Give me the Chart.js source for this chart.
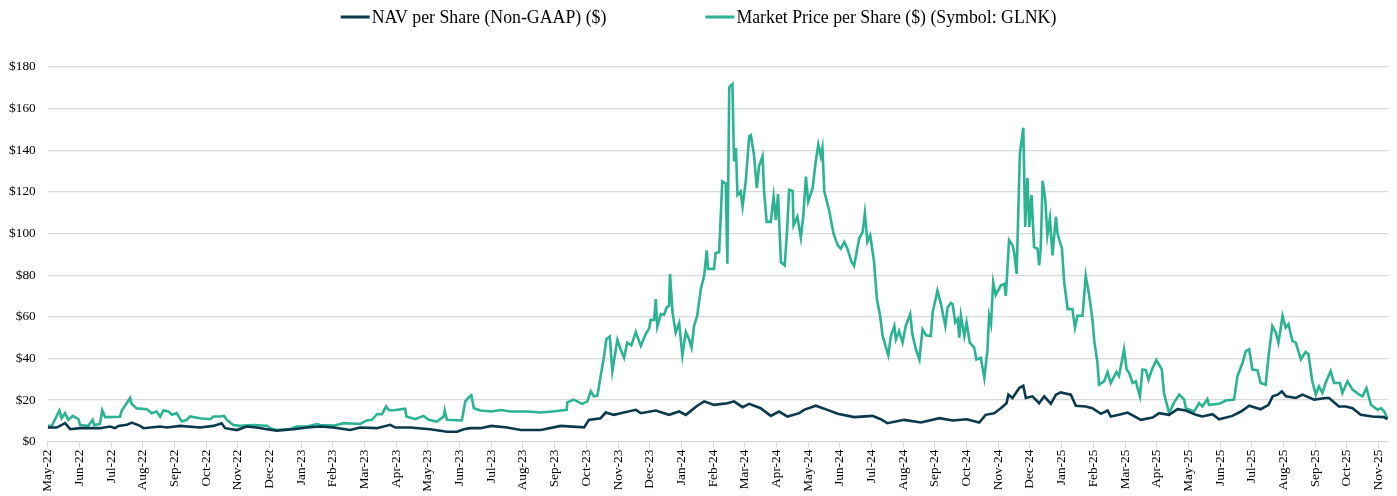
<!DOCTYPE html>
<html>
<head>
<meta charset="utf-8">
<script src="https://cdn.jsdelivr.net/npm/chart.js@4.4.1/dist/chart.umd.min.js"></script>
<style>
  html, body { margin: 0; padding: 0; background: #ffffff; }
  #wrap { width: 1397px; height: 496px; }
</style>
</head>
<body>
<div id="wrap"><canvas id="c" width="1397" height="496"></canvas></div>
<script>
// Month tick labels (x value = months since May-22)
const monthLabels = ['May-22','Jun-22','Jul-22','Aug-22','Sep-22','Oct-22','Nov-22','Dec-22',
  'Jan-23','Feb-23','Mar-23','Apr-23','May-23','Jun-23','Jul-23','Aug-23','Sep-23','Oct-23','Nov-23','Dec-23',
  'Jan-24','Feb-24','Mar-24','Apr-24','May-24','Jun-24','Jul-24','Aug-24','Sep-24','Oct-24','Nov-24','Dec-24',
  'Jan-25','Feb-25','Mar-25','Apr-25','May-25','Jun-25','Jul-25','Aug-25','Sep-25','Oct-25','Nov-25'];

const yTickValues = [0, 20, 40, 60, 80, 100, 120, 140, 160, 180];

const seriesNames = ['NAV per Share (Non-GAAP) ($)', 'Market Price per Share ($) (Symbol: GLNK)'];

// Market price: time (months since May-22) and value ($)
const priceMonth = [0,0.13,0.37,0.44,0.55,0.65,0.79,0.97,1.02,1.28,1.42,1.47,1.65,1.72,1.81,2.28,2.34,2.6,2.65,2.81,
  3.13,3.28,3.44,3.55,3.65,3.81,3.92,4.07,4.23,4.39,4.49,4.81,5.13,5.23,5.44,5.57,5.65,5.86,6.07,6.5,
  6.92,7.02,7.23,7.65,7.86,8.18,8.5,8.6,9.02,9.34,9.86,10.07,10.23,10.39,10.55,10.68,10.76,10.86,11.28,11.32,
  11.6,11.86,12.02,12.28,12.5,12.53,12.6,13.07,13.18,13.3,13.37,13.45,13.66,14,14.3,14.6,15.14,15.56,16.0,16.38,
  16.4,16.6,16.87,17.03,17.14,17.24,17.35,17.45,17.56,17.63,17.74,17.82,17.98,18.08,18.19,18.29,18.42,18.56,18.72,18.87,
  18.98,19.03,19.14,19.19,19.24,19.35,19.45,19.54,19.61,19.64,19.72,19.82,19.93,20.03,20.14,20.24,20.32,20.4,20.5,20.61,
  20.72,20.8,20.84,21.03,21.08,21.19,21.29,21.4,21.45,21.51,21.61,21.66,21.72,21.77,21.87,21.93,22.03,22.14,22.19,22.29,
  22.38,22.45,22.56,22.61,22.69,22.82,22.91,22.98,23.05,23.14,23.26,23.33,23.4,23.51,23.54,23.66,23.77,23.85,23.93,24,
  24.14,24.24,24.32,24.4,24.45,24.51,24.66,24.8,24.93,25.03,25.14,25.24,25.37,25.45,25.61,25.72,25.79,25.87,25.96,26.08,
  26.17,26.27,26.35,26.53,26.61,26.72,26.77,26.87,26.98,27.08,27.22,27.29,27.4,27.51,27.61,27.72,27.87,27.93,28.08,28.19,
  28.33,28.4,28.5,28.56,28.64,28.72,28.77,28.82,28.93,29,29.1,29.24,29.31,29.45,29.56,29.66,29.71,29.77,29.84,29.92,
  30.08,30.19,30.24,30.34,30.45,30.5,30.58,30.68,30.79,30.85,30.92,30.98,31.05,31.13,31.24,31.29,31.34,31.4,31.48,31.55,
  31.63,31.71,31.82,31.87,32.01,32.08,32.19,32.34,32.42,32.5,32.66,32.76,32.87,32.97,33.03,33.13,33.18,33.34,33.45,33.55,
  33.73,33.81,33.97,34.05,34.13,34.24,34.34,34.47,34.55,34.66,34.74,34.85,34.99,35.16,35.23,35.39,35.55,35.71,35.87,35.92,
  36.18,36.34,36.44,36.6,36.65,36.97,37.18,37.44,37.55,37.71,37.81,37.92,38.02,38.18,38.28,38.44,38.53,38.65,38.76,38.84,
  38.91,38.97,39.07,39.16,39.28,39.39,39.55,39.7,39.79,39.91,40.02,40.12,40.23,40.33,40.49,40.6,40.78,40.86,41.02,41.18,
  41.39,41.5,41.62,41.76,41.97,42.08,42.18,42.28];
const priceValue = [7.6,7.6,15,11.3,13.7,10.5,12.4,10.8,8,7.6,10.5,8,8.5,15,11.8,12,15,21,18.2,16,
  15.6,13.7,14.5,12,15,14.5,12.9,13.7,9.7,10.5,12.1,11.3,10.8,12.1,12.1,12.4,10.5,8,7.6,8,
  7.7,6.5,5.6,6.1,7.3,7.3,8.5,8,7.7,8.9,8.5,10.2,10.5,13.2,13.2,16.9,15.3,15,15.8,12.1,
  10.8,12.4,10.5,9.7,12.1,15,10.5,10.2,19.4,21.5,22.3,16.1,15,14.5,15.2,14.5,14.5,14,14.6,15.3,
  18.9,20.2,18.2,19.4,24.2,21.8,22.1,31.5,41.1,49.2,50.5,33.9,48.9,44.4,40.3,47.6,46.3,52.7,46,51.6,
  54.4,58.5,58.5,68.5,55.3,61.3,61,64.5,65.3,80.6,62,52.4,57,41.5,52.7,49.2,45.2,55.6,60.5,73.1,
  79.8,91.9,83,83,90.6,91,125,124,85.5,170.2,171.8,134.7,141.1,118.5,120.2,112.9,125,146.8,147.3,137.9,
  121.8,132.3,137.1,120.2,105.6,105.6,117.7,106.5,119,86.3,84.7,100,121,120.5,104,108.1,97.9,108.9,127.4,115.3,
  121.8,134.7,142.7,137.1,141.1,120.2,111.3,100,94.4,92.7,96,92.7,86.3,84.4,97.6,100.8,109.7,96,99.2,86.3,
  68.5,60.5,50.8,41.5,50.8,55.6,49.2,53.2,47.6,55.6,61.3,51.6,44.4,39.5,54,51.1,50.8,62.1,72.6,66.1,
  55.6,64.5,66.6,66.1,57.3,58.9,50,60.5,50.8,57.3,47.6,45.2,39.5,40.3,30.6,44.4,60.5,56.5,76.6,70.5,
  75,75.8,70,96.8,94.4,91.1,80.6,137.9,150.8,103.2,126.6,103.2,118.5,93.5,92.7,84.7,92.7,125.3,117,99.2,
  107.3,89.5,108.1,100,92.7,76.6,63.7,63.7,54.8,60.5,60.5,79.8,70.2,58.9,48.4,37.9,27.4,29,33.4,28.2,
  33.4,31.5,44.4,34.7,33.1,28.2,29,21.8,34.7,34.4,29.8,34.7,39.2,34.7,23.4,13.7,18.9,22.6,20.2,16.1,
  14.5,18.5,16.9,20.5,17.7,18.2,19.8,20.2,31.5,37.9,43.5,44.4,34.7,34.4,28.2,27.4,41.1,55.6,52.4,47.6,
  54,60.5,54.8,56.5,48.4,47.6,39.5,43.1,42,29,22.6,26.6,23.4,28.2,33.9,28.2,28.2,23.4,29,25,
  22.6,21.8,25.8,17.7,15.3,16.1,14.5,11.3];

// NAV per share: time (months since May-22) and value ($)
const navMonth = [0,0.28,0.55,0.71,1.02,1.65,1.97,2.13,2.23,2.5,2.65,2.92,3.02,3.55,3.76,4.18,4.81,5.23,5.49,5.6,
  5.97,6.28,6.6,6.92,7.23,7.76,8.18,8.6,9.02,9.55,9.86,10.39,10.81,10.97,11.44,12.07,12.6,12.92,13.13,13.34,
  13.66,14,14.5,14.93,15.56,16.19,16.93,17.08,17.45,17.61,17.87,18.08,18.56,18.72,19.19,19.61,19.93,20.14,20.5,20.72,
  21.03,21.45,21.66,21.93,22.14,22.5,22.82,23.08,23.35,23.72,23.87,24.24,24.61,24.93,25.45,26.03,26.29,26.5,27.03,27.56,
  28.14,28.56,29,29.4,29.6,29.87,30.08,30.26,30.32,30.45,30.66,30.79,30.87,31.08,31.29,31.45,31.66,31.82,31.97,32.29,
  32.45,32.76,32.97,33.24,33.45,33.55,33.81,34.08,34.5,34.87,35.08,35.39,35.66,35.92,36.24,36.44,36.76,36.97,37.39,37.66,
  37.92,38.28,38.53,38.66,38.82,38.95,39.08,39.39,39.6,39.97,40.33,40.44,40.75,40.97,41.18,41.44,41.81,42.17,42.28];
const navValue = [6.8,6.8,8.9,6,6.5,6.5,7.3,6.5,7.6,8.1,9.2,7.6,6.5,7.3,6.8,7.6,6.8,7.6,8.9,6.5,
  5.6,7.3,6.8,6,5.3,6,6.8,7.3,6.8,5.6,6.8,6.5,8.1,6.8,6.8,6,4.8,4.8,6,6.5,
  6.5,7.6,6.8,5.6,5.6,7.6,6.9,10.5,11.3,14,12.9,13.7,15.3,13.7,15,12.9,14.5,12.9,17.3,19.4,
  17.7,18.5,19.4,16.6,18.2,16.1,12.4,14.5,12.1,13.7,15.3,17.3,15.3,13.4,11.8,12.4,10.8,8.9,10.5,9.2,
  11.3,10.2,10.8,9.2,12.9,13.7,16.1,18.5,22.6,21,25.8,26.9,21,21.8,18.5,21.8,18.2,22.6,23.7,22.6,
  17.3,16.9,16.1,13.4,15,12.1,12.9,14,10.5,11.6,13.7,12.9,15.6,15,12.9,12.1,13.2,10.8,12.4,14.5,
  17.3,15.6,17.7,21.8,22.6,24.2,21.8,21,22.6,20.2,21,21,16.9,16.9,16.1,12.9,12.1,11.8,10.8];

const navColor = '#0a3a4c';
const priceColor = '#2bb394';

const navData = navMonth.map((m, i) => ({x: m, y: navValue[i]}));
const priceData = priceMonth.map((m, i) => ({x: m, y: priceValue[i]}));

const topLegend = {
  id: 'topLegend',
  afterDraw(chart) {
    const ctx = chart.ctx;
    ctx.save();
    ctx.font = '17.8px "Liberation Serif", "Times New Roman", serif';
    ctx.textBaseline = 'middle';
    ctx.textAlign = 'left';
    const items = chart.data.datasets.map(ds => ({text: ds.label, color: ds.borderColor, w: ctx.measureText(ds.label).width}));
    const boxW = 29, gap = 2, itemGap = 99, y = 17;
    const total = items.reduce((s, it) => s + boxW + gap + it.w, 0) + itemGap * (items.length - 1);
    let x = chart.width / 2 - total / 2;
    items.forEach(it => {
      ctx.fillStyle = it.color;
      ctx.fillRect(x, y - 1.5, boxW, 3);
      x += boxW + gap;
      ctx.fillStyle = '#000000';
      ctx.fillText(it.text, x, y + 1);
      x += it.w + itemGap;
    });
    ctx.restore();
  }
};

const tickFont = {family: '"Liberation Serif", "Times New Roman", serif', size: 13.3};

new Chart(document.getElementById('c'), {
  type: 'line',
  data: {
    datasets: [
      {label: seriesNames[0], data: navData, borderColor: navColor, backgroundColor: navColor, borderWidth: 2.6, pointRadius: 0, tension: 0, fill: false},
      {label: seriesNames[1], data: priceData, borderColor: priceColor, backgroundColor: priceColor, borderWidth: 2.6, pointRadius: 0, tension: 0, fill: false}
    ]
  },
  options: {
    responsive: false,
    animation: false,
    events: [],
    layout: {padding: {top: 67, right: 9, bottom: 0, left: 0}},
    plugins: {legend: {display: false}, tooltip: {enabled: false}},
    scales: {
      x: {
        type: 'linear',
        min: 0,
        max: 42.3,
        afterBuildTicks: (scale) => { scale.ticks = monthLabels.map((_, i) => ({value: i})); },
        afterFit: (scale) => { scale.height = 54.3; },
        ticks: {
          autoSkip: false,
          minRotation: 90,
          maxRotation: 90,
          padding: 2,
          color: '#000000',
          font: tickFont,
          callback: (v) => monthLabels[Math.round(v)]
        },
        grid: {display: true, drawOnChartArea: false, drawTicks: true, tickLength: 6, color: '#d9d9d9'},
        border: {display: true, color: '#d9d9d9', width: 1}
      },
      y: {
        min: 0,
        max: 180,
        afterBuildTicks: (scale) => { scale.ticks = yTickValues.map(v => ({value: v})); },
        afterFit: (scale) => { scale.width = 47.7; },
        ticks: {
          padding: 12,
          color: '#000000',
          font: tickFont,
          callback: (v) => '$' + v
        },
        grid: {color: '#d9d9d9', lineWidth: 1.2, drawTicks: false},
        border: {display: false}
      }
    }
  },
  plugins: [topLegend]
});
</script>
</body>
</html>
